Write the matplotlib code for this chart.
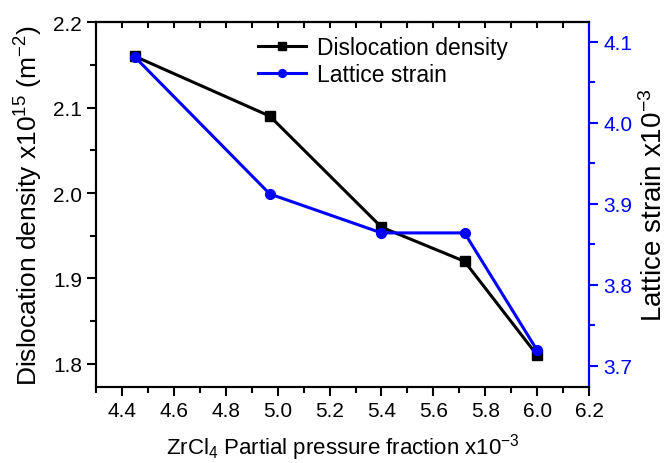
import matplotlib
matplotlib.use("Agg")
import matplotlib.pyplot as plt
from matplotlib.ticker import MultipleLocator, FormatStrFormatter

plt.rcParams['font.family'] = ['Liberation Sans', 'DejaVu Sans']
plt.rcParams['mathtext.default'] = 'regular'

#  data
pressure = [4.45, 4.97, 5.40, 5.72, 6.00]
dislocation = [2.16, 2.09, 1.96, 1.92, 1.81]
strain = [4.081, 3.912, 3.864, 3.864, 3.719]

fig = plt.figure(figsize=(6.71, 4.64), dpi=100)
ax = fig.add_axes([0.143, 0.164, 0.735, 0.786])
ax2 = ax.twinx()

l1, = ax.plot(pressure, dislocation, color='black', lw=2.2, marker='s', ms=6.5,
              label='Dislocation density')
l2, = ax2.plot(pressure, strain, color='blue', lw=2.2, marker='o', ms=7,
               label='Lattice strain')

ax.set_xlim(4.3, 6.2)
ax.set_ylim(1.773, 2.2)
ax2.set_ylim(3.674, 4.124)

ax.xaxis.set_major_locator(MultipleLocator(0.2))
ax.xaxis.set_minor_locator(MultipleLocator(0.1))
ax.yaxis.set_major_locator(MultipleLocator(0.1))
ax.yaxis.set_minor_locator(MultipleLocator(0.05))
ax2.yaxis.set_major_locator(MultipleLocator(0.1))
ax2.yaxis.set_minor_locator(MultipleLocator(0.05))

ax.tick_params(which='both', direction='out', width=1.5, labelsize=15, colors='black')
ax.tick_params(which='major', length=6.5)
ax.tick_params(which='minor', length=4.5)
ax2.tick_params(which='both', direction='out', width=1.5, labelsize=15, colors='blue')
ax2.tick_params(which='major', length=6.5)
ax2.tick_params(which='minor', length=4.5)

top = ax.secondary_xaxis('top')
top.xaxis.set_major_locator(MultipleLocator(0.2))
top.xaxis.set_minor_locator(MultipleLocator(0.1))
top.tick_params(which='both', direction='in', width=1.5, length=4.5, labeltop=False)
top.spines['top'].set_linewidth(1.5)

ax.xaxis.set_major_formatter(FormatStrFormatter('%.1f'))
ax.yaxis.set_major_formatter(FormatStrFormatter('%.1f'))
ax2.yaxis.set_major_formatter(FormatStrFormatter('%.1f'))

for s in ax.spines.values():
    s.set_linewidth(1.5)
for s in ax2.spines.values():
    s.set_linewidth(1.5)
ax2.spines['right'].set_color('blue')

ax.set_xlabel('ZrCl$_4$ Partial pressure fraction x10$^{-3}$', fontsize=16, labelpad=8)
ax.set_ylabel('Dislocation density x10$^{15}$ (m$^{-2}$)', fontsize=19, labelpad=6)
ax2.set_ylabel('Lattice strain x10$^{-3}$', fontsize=20, labelpad=6)

ax.legend([l1, l2], ['Dislocation density', 'Lattice strain'], loc='upper left',
          bbox_to_anchor=(0.385, 0.92), bbox_transform=fig.transFigure,
          frameon=False, fontsize=16.5, handlelength=2.1, handletextpad=0.45,
          labelspacing=0.15, borderaxespad=0, borderpad=0, markerscale=0.8)

fig.savefig('out.png', dpi=100)
